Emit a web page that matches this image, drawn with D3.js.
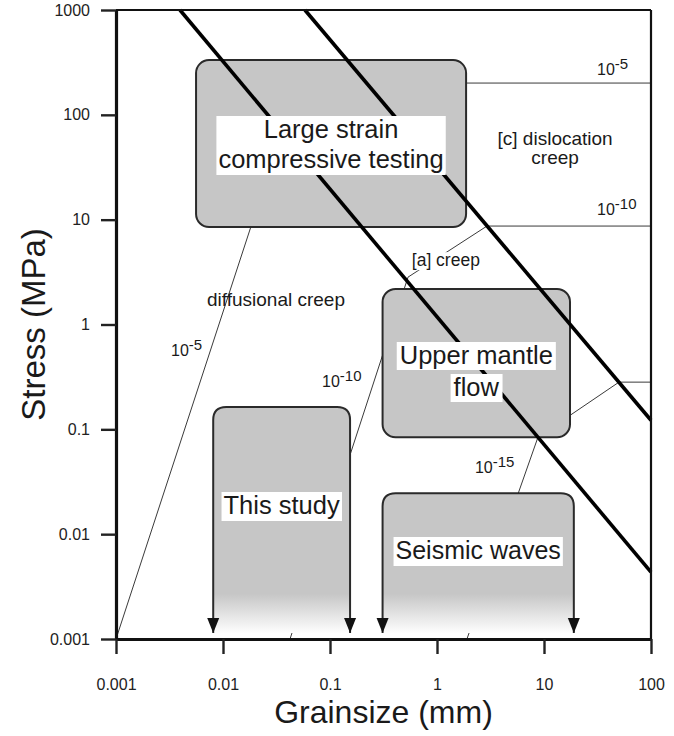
<!DOCTYPE html>
<html><head><meta charset="utf-8">
<script src="https://cdn.jsdelivr.net/npm/d3@7"></script>
<style>body{margin:0;background:#fff}</style>
</head><body><svg id="c" width="674" height="736"></svg>
<script>
// ---------- data ----------
const grainTicks = [0.001, 0.01, 0.1, 1, 10, 100];
const grainTickLabels = ["0.001", "0.01", "0.1", "1", "10", "100"];
const stressTicks = [0.001, 0.01, 0.1, 1, 10, 100, 1000];
const stressTickLabels = ["0.001", "0.01", "0.1", "1", "10", "100", "1000"];

// mechanism field boundaries: [grain size mm, stress MPa]
const boundaryA = [[0.00396, 1000], [100, 0.00434]];
const boundaryC = [[0.0583, 1000], [100, 0.122]];

// strain-rate contours (1/s): [grain size mm, stress MPa]
const contour5  = [[0.001, 0.001], [0.0346, 63.2], [0.217, 201], [100, 201]];
const contour10 = [[0.0423, 0.001], [0.536, 2.83], [2.93, 8.69], [100, 8.69]];
const contour15 = [[1.905, 0.001], [8.79, 0.0843], [50.2, 0.282], [100, 0.282]];

// regions: [grainMin, grainMax, stressMin, stressMax]
const regionLarge   = [0.0056, 1.87, 8.5, 333];
const regionMantle  = [0.31, 17.5, 0.084, 2.18];
const regionStudy   = [0.0081, 0.154, 0.001, 0.163];
const regionSeismic = [0.31, 19, 0.001, 0.0246];
const regionLabels = [["Large strain", "compressive testing"], ["Upper mantle", "flow"], ["This study"], ["Seismic waves"]];

// ---------- drawing ----------
const svg = d3.select("#c");
const font = "'Liberation Sans', Arial, Helvetica, sans-serif";
const x = d3.scaleLog().domain([0.001, 100]).range([116, 651]);
const y = d3.scaleLog().domain([0.001, 1000]).range([639, 10]);
const line = d3.line().x(d => x(d[0])).y(d => y(d[1]));

const defs = svg.append("defs");
const grad = defs.append("linearGradient").attr("id", "fade")
  .attr("gradientUnits", "userSpaceOnUse")
  .attr("x1", 0).attr("x2", 0).attr("y1", y(0.0027)).attr("y2", y(0.00112));
grad.append("stop").attr("offset", 0).attr("stop-color", "#c6c6c6");
grad.append("stop").attr("offset", 1).attr("stop-color", "#ffffff");

// contours
[contour5, contour10, contour15].forEach(c => {
  svg.append("path").attr("d", line(c)).attr("fill", "none")
    .attr("stroke", "#3a3a3a").attr("stroke-width", 1);
});

// rounded boxes
const boxStroke = "#2a2a2a", boxFill = "#c6c6c6";
[regionLarge, regionMantle].forEach(r => {
  svg.append("rect")
    .attr("x", x(r[0])).attr("y", y(r[3]))
    .attr("width", x(r[1]) - x(r[0])).attr("height", y(r[2]) - y(r[3]))
    .attr("rx", 13).attr("ry", 13)
    .attr("fill", boxFill).attr("stroke", boxStroke).attr("stroke-width", 2);
});

// open-bottom boxes with arrows
[regionStudy, regionSeismic].forEach(r => {
  const x0 = x(r[0]), x1 = x(r[1]), yt = y(r[3]), yb = y(r[2]) - 6, rr = 13;
  const top = `M${x0},${yb} L${x0},${yt + rr} Q${x0},${yt} ${x0 + rr},${yt} L${x1 - rr},${yt} Q${x1},${yt} ${x1},${yt + rr} L${x1},${yb}`;
  svg.append("path").attr("d", top + " Z").attr("fill", "url(#fade)").attr("stroke", "none");
  svg.append("path").attr("d", top).attr("fill", "none").attr("stroke", boxStroke).attr("stroke-width", 2);
  [x0, x1].forEach(xx => {
    svg.append("path").attr("d", `M${xx - 6},${yb - 15} L${xx + 6},${yb - 15} L${xx},${yb} Z`).attr("fill", "#111");
  });
});

// thick boundaries
[boundaryA, boundaryC].forEach(b => {
  svg.append("path").attr("d", line(b)).attr("fill", "none")
    .attr("stroke", "#000").attr("stroke-width", 3.6);
});

// region labels (white backgrounds)
function regionLabel(r, lines, opts) {
  const cx = (x(r[0]) + x(r[1])) / 2;
  const g = svg.append("g");
  const texts = lines.map((t, i) => g.append("text")
    .attr("x", cx).attr("y", opts.base + i * opts.lh)
    .attr("text-anchor", "middle").attr("font-family", font)
    .attr("font-size", opts.fs).attr("fill", "#1a1a1a").text(t));
  const boxes = texts.map(t => t.node().getBBox());
  if (opts.perLine) {
    boxes.forEach(b => g.insert("rect", "text").attr("x", b.x - 3).attr("y", b.y + 1)
      .attr("width", b.width + 6).attr("height", b.height).attr("fill", "#fff"));
  } else {
    const bx0 = d3.min(boxes, b => b.x), bx1 = d3.max(boxes, b => b.x + b.width);
    const by0 = d3.min(boxes, b => b.y), by1 = d3.max(boxes, b => b.y + b.height);
    g.insert("rect", "text").attr("x", bx0 - 2).attr("y", by0 + 1)
      .attr("width", bx1 - bx0 + 4).attr("height", by1 - by0 + 1).attr("fill", "#fff");
  }
}
regionLabel(regionLarge, regionLabels[0], {base: 138, lh: 30, fs: 25.5});
regionLabel(regionMantle, regionLabels[1], {base: 364, lh: 32, fs: 25.5, perLine: true});
regionLabel(regionStudy, regionLabels[2], {base: 514, lh: 30, fs: 25.5});
regionLabel(regionSeismic, regionLabels[3], {base: 559, lh: 30, fs: 25});

// annotations
function note(g, s, t, anchor, fs, bg) {
  const el = svg.append("text").attr("x", x(g)).attr("y", y(s))
    .attr("text-anchor", anchor || "start").attr("font-family", font)
    .attr("font-size", fs).attr("fill", "#1a1a1a").text(t);
  if (bg) {
    const b = el.node().getBBox();
    svg.insert("rect", () => el.node()).attr("x", b.x - 1).attr("y", b.y + 2)
      .attr("width", b.width + 2).attr("height", b.height - 2).attr("fill", "#fff");
  }
  return el;
}
function rate(g, s, exp) {
  const t = svg.append("text").attr("x", x(g)).attr("y", y(s))
    .attr("font-family", font).attr("font-size", 16).attr("fill", "#1a1a1a");
  t.append("tspan").text("10");
  t.append("tspan").attr("dy", -6).attr("font-size", 15).text(exp);
}
rate(31.3, 240, "-5");
rate(31.3, 11.1, "-10");
rate(0.00327, 0.499, "-5");
rate(0.0842, 0.253, "-10");
rate(2.26, 0.0382, "-15");
note(12.7, 51.5, "[c] dislocation", "middle", 19);
note(12.7, 33.9, "creep", "middle", 19);
note(1.21, 3.6, "[a] creep", "middle", 17.5, true);
note(0.00708, 1.5, "diffusional creep", "start", 19);

// frame
svg.append("line").attr("x1", x(0.001)).attr("x2", x(100)).attr("y1", y(1000)).attr("y2", y(1000))
  .attr("stroke", "#111").attr("stroke-width", 2.2);
svg.append("line").attr("x1", x(100)).attr("x2", x(100)).attr("y1", y(1000)).attr("y2", y(0.001))
  .attr("stroke", "#111").attr("stroke-width", 2.2);

// axes
const yAxis = d3.axisLeft(y).tickValues(stressTicks)
  .tickFormat((d, i) => stressTickLabels[i]).tickSize(15).tickSizeOuter(0).tickPadding(11);
const gy = svg.append("g").attr("transform", `translate(${x(0.001)},0)`).call(yAxis);
const xAxis = d3.axisBottom(x).tickValues(grainTicks)
  .tickFormat((d, i) => grainTickLabels[i]).tickSize(15).tickSizeOuter(0).tickPadding(25);
const gx = svg.append("g").attr("transform", `translate(0,${y(0.001)})`).call(xAxis);
[gx, gy].forEach(g => {
  g.select(".domain").attr("stroke", "#111").attr("stroke-width", 3.2);
  g.selectAll(".tick line").attr("stroke", "#222").attr("stroke-width", 2.4);
  g.selectAll(".tick text").attr("font-family", font).attr("font-size", 16).attr("fill", "#222");
});

// axis titles
svg.append("text").attr("x", (x(0.001) + x(100)) / 2).attr("y", 723)
  .attr("text-anchor", "middle").attr("font-family", font).attr("font-size", 32)
  .attr("fill", "#1a1a1a").text("Grainsize (mm)");
svg.append("text").attr("transform", `translate(45,${(y(0.001) + y(1000)) / 2}) rotate(-90)`)
  .attr("text-anchor", "middle").attr("font-family", font).attr("font-size", 33)
  .attr("fill", "#1a1a1a").text("Stress (MPa)");
</script></body></html>
